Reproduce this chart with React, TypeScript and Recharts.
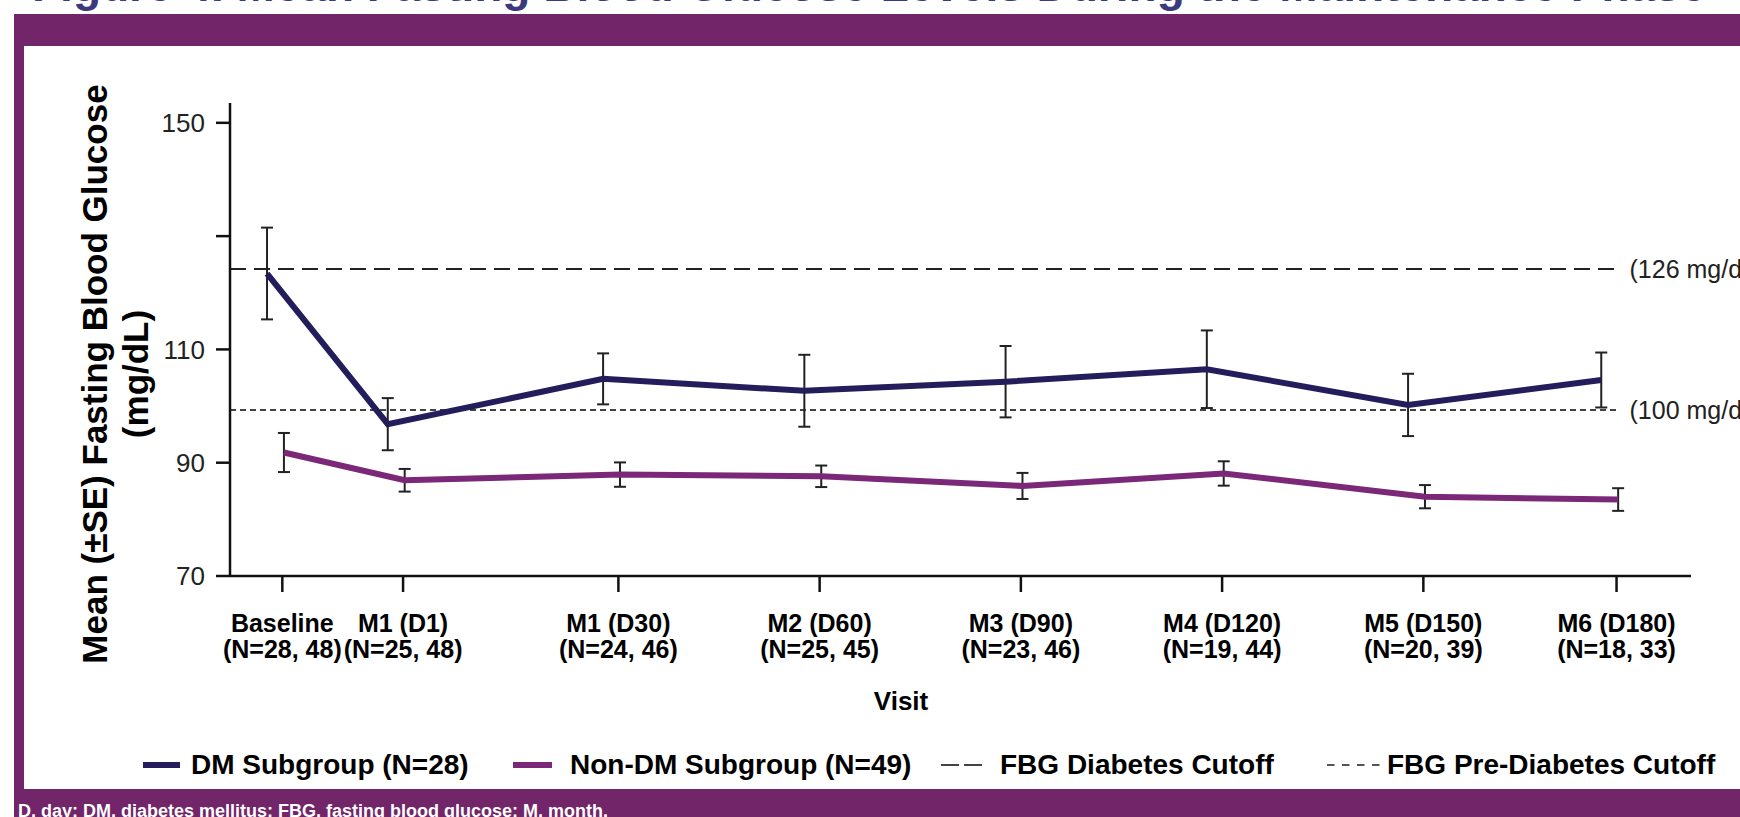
import React from 'react';
import { LineChart, Line, XAxis, YAxis, ErrorBar, ReferenceLine } from 'recharts';

const FONT = '"Liberation Sans", Arial, Helvetica, sans-serif';

// ---- data ----
const visitNames = ['Baseline', 'M1 (D1)', 'M1 (D30)', 'M2 (D60)', 'M3 (D90)', 'M4 (D120)', 'M5 (D150)', 'M6 (D180)'];
const visitN = ['(N=28, 48)', '(N=25, 48)', '(N=24, 46)', '(N=25, 45)', '(N=23, 46)', '(N=19, 44)', '(N=20, 39)', '(N=18, 33)'];
const visitPos = [0, 0.6, 1.67, 2.67, 3.67, 4.67, 5.67, 6.63];
const xDomain = [-0.26, 7.0];

const dmMean = [123.4, 96.8, 104.8, 102.7, 104.3, 106.5, 100.2, 104.6];
const dmSE = [8.1, 4.6, 4.5, 6.35, 6.3, 6.85, 5.5, 4.85];
const nonDmMean = [91.8, 86.9, 87.9, 87.6, 85.9, 88.1, 84.0, 83.5];
const nonDmSE = [3.45, 2.0, 2.15, 1.9, 2.3, 2.15, 2.05, 2.0];
const dmOffset = -0.076;
const nonDmOffset = 0.008;

const yTicks = [70, 90, 110, 130, 150];
const yTickLabels = ['70', '90', '110', '', '150'];
const yDomain = [70, 153.5];

const cutoffValues = [124.2, 99.3];
const cutoffLabels = ['(126 mg/dL)', '(100 mg/dL)'];

const seriesNames = ['DM Subgroup (N=28)', 'Non-DM Subgroup (N=49)', 'FBG Diabetes Cutoff', 'FBG Pre-Diabetes Cutoff'];

const titleText = 'Figure 4. Mean Fasting Blood Glucose Levels During the Maintenance Phase';
const footText = 'D, day; DM, diabetes mellitus; FBG, fasting blood glucose; M, month.';

const DM_COLOR = '#231e5b';
const NONDM_COLOR = '#7a2877';
const FRAME = '#722569';

const dmData = visitPos.map((p, i) => ({ x: p + dmOffset, y: dmMean[i], se: dmSE[i] }));
const nonDmData = visitPos.map((p, i) => ({ x: p + nonDmOffset, y: nonDmMean[i], se: nonDmSE[i] }));

const XTick = (props: any) => {
  const { x, y, payload } = props;
  let i = visitPos.indexOf(payload.value);
  if (i < 0) i = props.index ?? 0;
  return (
    <g>
      <text x={x} y={y + 38} textAnchor="middle" fontFamily={FONT} fontWeight="bold" fontSize={25} fill="#000">
        {visitNames[i]}
      </text>
      <text x={x} y={y + 64} textAnchor="middle" fontFamily={FONT} fontWeight="bold" fontSize={25} fill="#000">
        {visitN[i]}
      </text>
    </g>
  );
};

export default function App() {
  return (
    <div style={{ position: 'fixed', left: 0, top: 0, width: 1740, height: 817, overflow: 'hidden', background: '#fff' }}>
      <svg width={1740} height={817} style={{ position: 'absolute', left: 0, top: 0 }}>
        <rect x={14} y={14} width={1726} height={32} fill={FRAME} />
        <rect x={14} y={14} width={10} height={776} fill={FRAME} />
        <rect x={14} y={789} width={1726} height={28} fill={FRAME} />
        <text x={32} y={1} fontFamily={FONT} fontWeight="bold" fontSize={46} fill="#3b3a7c">{titleText}</text>
        <text x={18} y={817} fontFamily={FONT} fontWeight="bold" fontSize={18} fill="#fff">{footText}</text>
        <text transform="translate(107,374) rotate(-90)" textAnchor="middle" fontFamily={FONT} fontWeight="bold" fontSize={35} fill="#000">
          Mean (±SE) Fasting Blood Glucose
        </text>
        <text transform="translate(148,374) rotate(-90)" textAnchor="middle" fontFamily={FONT} fontWeight="bold" fontSize={35} fill="#000">
          (mg/dL)
        </text>
        <text x={901} y={710} textAnchor="middle" fontFamily={FONT} fontWeight="bold" fontSize={26} fill="#000">Visit</text>
        {/* legend */}
        <line x1={143} x2={180} y1={765} y2={765} stroke={DM_COLOR} strokeWidth={6} />
        <text x={191} y={774} fontFamily={FONT} fontWeight="bold" fontSize={28} fill="#000">{seriesNames[0]}</text>
        <line x1={513} x2={552} y1={765} y2={765} stroke={NONDM_COLOR} strokeWidth={6} />
        <text x={570} y={774} fontFamily={FONT} fontWeight="bold" fontSize={28} fill="#000">{seriesNames[1]}</text>
        <line x1={941} x2={982} y1={765} y2={765} stroke="#444" strokeWidth={2} strokeDasharray="18 5" />
        <text x={1000} y={774} fontFamily={FONT} fontWeight="bold" fontSize={28} fill="#000">{seriesNames[2]}</text>
        <line x1={1327} x2={1380} y1={765} y2={765} stroke="#555" strokeWidth={2} strokeDasharray="7.5 7.5" />
        <text x={1387} y={774} fontFamily={FONT} fontWeight="bold" fontSize={28} fill="#000">{seriesNames[3]}</text>
      </svg>
      <div style={{ position: 'absolute', left: 0, top: 0 }}>
        <LineChart width={1740} height={817} margin={{ top: 103, right: 49, bottom: 141, left: 130 }}>
          <XAxis
            type="number"
            dataKey="x"
            domain={xDomain}
            ticks={visitPos}
            allowDataOverflow
            height={100}
            tickSize={16}
            tickMargin={2}
            interval={0}
            axisLine={{ stroke: '#111', strokeWidth: 2.5 }}
            tickLine={{ stroke: '#111', strokeWidth: 2.5 }}
            tick={<XTick />}
          />
          <YAxis
            type="number"
            domain={yDomain}
            ticks={yTicks}
            allowDataOverflow
            width={100}
            tickSize={14}
            tickMargin={11}
            interval={0}
            axisLine={{ stroke: '#111', strokeWidth: 2.5 }}
            tickLine={{ stroke: '#111', strokeWidth: 2.5 }}
            tickFormatter={(v: number) => yTickLabels[yTicks.indexOf(v)] ?? ''}
            tick={{ fontSize: 26, fill: '#222', fontFamily: FONT }}
          />
          <ReferenceLine
            segment={[{ x: xDomain[0], y: cutoffValues[0] }, { x: visitPos[7], y: cutoffValues[0] }]}
            stroke="#222"
            strokeWidth={2}
            strokeDasharray="16 8"
            label={{ value: cutoffLabels[0], position: 'right', offset: 13, fontSize: 25, fill: '#222', fontFamily: FONT }}
          />
          <ReferenceLine
            segment={[{ x: xDomain[0], y: cutoffValues[1] }, { x: visitPos[7], y: cutoffValues[1] }]}
            stroke="#444"
            strokeWidth={2}
            strokeDasharray="6 4"
            label={{ value: cutoffLabels[1], position: 'right', offset: 13, fontSize: 25, fill: '#222', fontFamily: FONT }}
          />
          <Line
            data={dmData}
            dataKey="y"
            type="linear"
            stroke={DM_COLOR}
            strokeWidth={6}
            dot={false}
            activeDot={false}
            isAnimationActive={false}
          >
            <ErrorBar dataKey="se" direction="y" width={6} stroke="#222" strokeWidth={2} isAnimationActive={false} />
          </Line>
          <Line
            data={nonDmData}
            dataKey="y"
            type="linear"
            stroke={NONDM_COLOR}
            strokeWidth={6}
            dot={false}
            activeDot={false}
            isAnimationActive={false}
          >
            <ErrorBar dataKey="se" direction="y" width={6} stroke="#222" strokeWidth={2} isAnimationActive={false} />
          </Line>
        </LineChart>
      </div>
    </div>
  );
}
